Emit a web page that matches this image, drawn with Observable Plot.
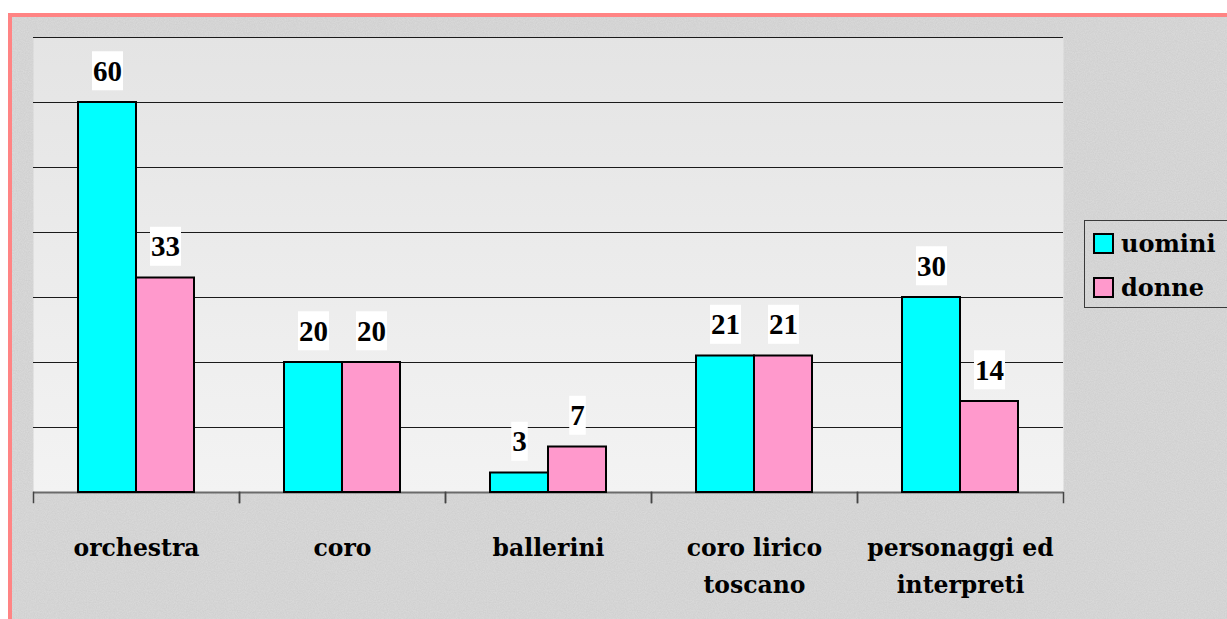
<!DOCTYPE html>
<html>
<head>
<meta charset="utf-8">
<script src="https://cdn.jsdelivr.net/npm/d3@7"></script>
<script src="https://cdn.jsdelivr.net/npm/@observablehq/plot@0.6"></script>
<style>
  html, body { margin: 0; padding: 0; background: #fff; width: 1227px; height: 619px; overflow: hidden; }
  #panel {
    position: absolute; left: 8px; top: 13px; width: 1260px; height: 650px;
    border-left: 4px solid #ff8484; border-top: 4px solid #ff8484;
    background-color: #d9d9d9;
    background-image: url("data:image/svg+xml;utf8,<svg xmlns='http://www.w3.org/2000/svg' width='400' height='400'><filter id='n'><feTurbulence type='fractalNoise' baseFrequency='0.9' numOctaves='2' seed='3'/><feColorMatrix values='0 0 0 0 0.5 0 0 0 0 0.5 0 0 0 0 0.5 0 0 0 0.5 -0.1'/></filter><rect width='400' height='400' filter='url(%23n)'/></svg>");
  }
  #chart { position: absolute; left: 0; top: 0; }
  #legend {
    position: absolute; left: 1084px; top: 220px; width: 170px; height: 88px;
    border: 1px solid #3a3a3a; box-sizing: border-box;
    font-family: "DejaVu Serif", serif; font-weight: bold; font-size: 24px; color: #000;
  }
  #legend .item { position: absolute; left: 8px; display: flex; align-items: center; }
  #legend .sw { width: 17px; height: 17px; border: 2px solid #000; margin-right: 7px; }
</style>
</head>
<body>
<svg width="0" height="0" style="position:absolute">
  <defs>
    <linearGradient id="plotbg" x1="0" y1="0" x2="0" y2="1">
      <stop offset="0" stop-color="#e4e4e4"/>
      <stop offset="1" stop-color="#f3f3f3"/>
    </linearGradient>
  </defs>
</svg>
<div id="panel"></div>
<div id="chart"></div>
<div id="legend"></div>
<script>
const categories = ["orchestra", "coro", "ballerini", "coro lirico\ntoscano", "personaggi ed\ninterpreti"];
const series = ["uomini", "donne"];
const uomini = [60, 20, 3, 21, 30];
const donne = [33, 20, 7, 21, 14];
const yTicks = [10, 20, 30, 40, 50, 60, 70];
const colors = ["#00ffff", "#ff99cc"];

const data = categories.flatMap((c, i) => [
  {cat: c, s: series[0], v: uomini[i]},
  {cat: c, s: series[1], v: donne[i]}
]);

const labelFont = {fontFamily: "DejaVu Serif", fontWeight: "bold", fontSize: 23.5, fill: "#000"};

const chart = Plot.plot({
  width: 1227,
  height: 619,
  marginLeft: 31,
  marginRight: 163,
  marginTop: 37,
  marginBottom: 127,
  style: {background: "transparent", overflow: "visible"},
  fx: {domain: categories, padding: 0, axis: null},
  x: {domain: series, paddingInner: 0, paddingOuter: 0.75, axis: null},
  y: {domain: [0, 70], axis: null},
  color: {domain: series, range: colors},
  marks: [
    Plot.frame({fill: "url(#plotbg)", stroke: "none", facet: "super"}),
    Plot.ruleY(yTicks, {stroke: "#1a1a1a", strokeWidth: 1}),
    Plot.ruleY([0], {stroke: "#6a6a6a", strokeWidth: 2}),
    Plot.frame({anchor: "left", stroke: "#444", strokeWidth: 1.5, insetTop: 455, insetBottom: -10}),
    Plot.frame({anchor: "right", stroke: "#444", strokeWidth: 1.5, insetTop: 455, insetBottom: -10}),
    Plot.barY(data, {fx: "cat", x: "s", y: "v", fill: "s", stroke: "#000", strokeWidth: 2}),
    Plot.text(data, {
      fx: "cat", x: "s", y: "v", text: d => String(d.v), dy: -31,
      fontFamily: "Liberation Serif", fontWeight: "bold", fontSize: 29, fill: "#000"
    }),
    Plot.text(categories, {
      fx: d => d, text: d => d, frameAnchor: "bottom", lineAnchor: "top",
      dy: 38, lineHeight: 1.55, textAnchor: "middle", ...labelFont
    })
  ]
});

document.getElementById("chart").appendChild(chart);

// white boxes behind the value labels
const svgNS = "http://www.w3.org/2000/svg";
chart.querySelectorAll("text").forEach(t => {
  if (!/^\d+$/.test(t.textContent)) return;
  const bb = t.getBBox();
  const r = document.createElementNS(svgNS, "rect");
  r.setAttribute("x", bb.x - 1);
  r.setAttribute("y", bb.y - 3.5);
  r.setAttribute("width", bb.width + 2);
  r.setAttribute("height", bb.height + 7);
  r.setAttribute("fill", "#fff");
  const tr = t.getAttribute("transform");
  if (tr) r.setAttribute("transform", tr);
  t.parentNode.insertBefore(r, t);
});

// legend
const legend = document.getElementById("legend");
series.forEach((s, i) => {
  const item = document.createElement("div");
  item.className = "item";
  item.style.top = (i === 0 ? 8 : 52) + "px";
  const sw = document.createElement("div");
  sw.className = "sw";
  sw.style.background = colors[i];
  const lab = document.createElement("span");
  lab.textContent = s;
  item.appendChild(sw);
  item.appendChild(lab);
  legend.appendChild(item);
});
</script>
</body>
</html>
